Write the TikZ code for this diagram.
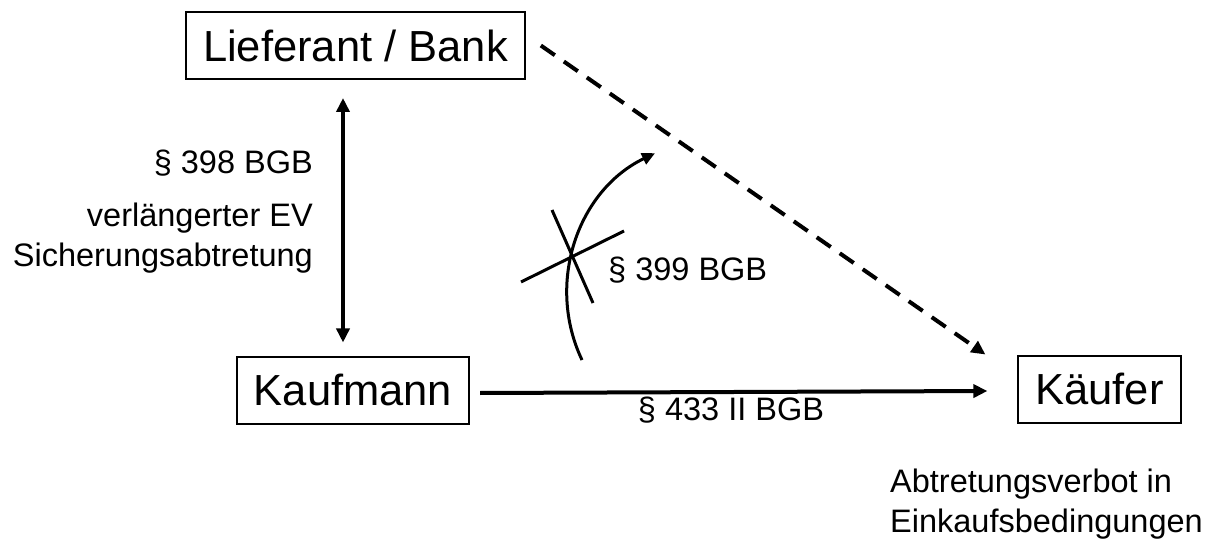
\documentclass[tikz,border=0pt]{standalone}
\usepackage{fontspec}
\setmainfont{Liberation Sans}
\usetikzlibrary{arrows.meta}
\begin{document}
\begin{tikzpicture}[x=1pt,y=-1pt,
  box/.style={draw,line width=2pt,inner xsep=17pt,minimum height=67pt,font=\fontsize{43.5}{50}\selectfont},
  lbl/.style={inner sep=0pt,font=\fontsize{32.5}{40}\selectfont},
  arr/.style={line width=4pt,-{Triangle[length=14pt,width=13pt]}},
  darr/.style={line width=4pt,{Triangle[length=14pt,width=13pt]}-{Triangle[length=14pt,width=13pt]}},
  thin/.style={line width=3pt}]
\useasboundingbox (0,0) rectangle (1213,545);
\node[box] (lief) at (355.5,45.5) {Lieferant / Bank};
\node[box] (kauf) at (353,390) {Kaufmann};
\node[box] (kaeu) at (1099.5,389) {Käufer};
\draw[darr] ([xshift=-12.5pt,yshift=-18pt]lief.south) -- ([xshift=-10pt,yshift=13pt]kauf.north);
\draw[arr] ([xshift=10pt,yshift=-3pt]kauf.east) -- ([xshift=-30pt,yshift=-2pt]kaeu.west);
\draw[arr,dash pattern=on 17pt off 11pt] ([xshift=15pt]lief.east) -- ([xshift=-32pt]kaeu.north west);
\coordinate (arcA) at (582,360);
\draw[thin,-{Triangle[length=13pt,width=12pt]}] (arcA) arc[start angle=154.6,end angle=244.3,radius=155.5] coordinate (arcB);
\coordinate (c1) at (521,282);
\coordinate (c2) at (624,231);
\coordinate (c3) at (552,210);
\coordinate (c4) at (593,303);
\draw[thin] (c1) -- (c2);
\draw[thin] (c3) -- (c4);
\node[lbl,anchor=east] (p398) at (313,163) {§ 398 BGB};
\node[lbl,anchor=east,align=right] (ev) at (313,238) {verlängerter EV\\Sicherungsabtretung};
\node[lbl,anchor=west] (p399) at (608,270) {§ 399 BGB};
\node[lbl] (p433) at (731,410) {§ 433 II BGB};
\node[lbl,anchor=west,align=left] (abt) at (890,504) {Abtretungsverbot in\\Einkaufsbedingungen};
\end{tikzpicture}
\end{document}
